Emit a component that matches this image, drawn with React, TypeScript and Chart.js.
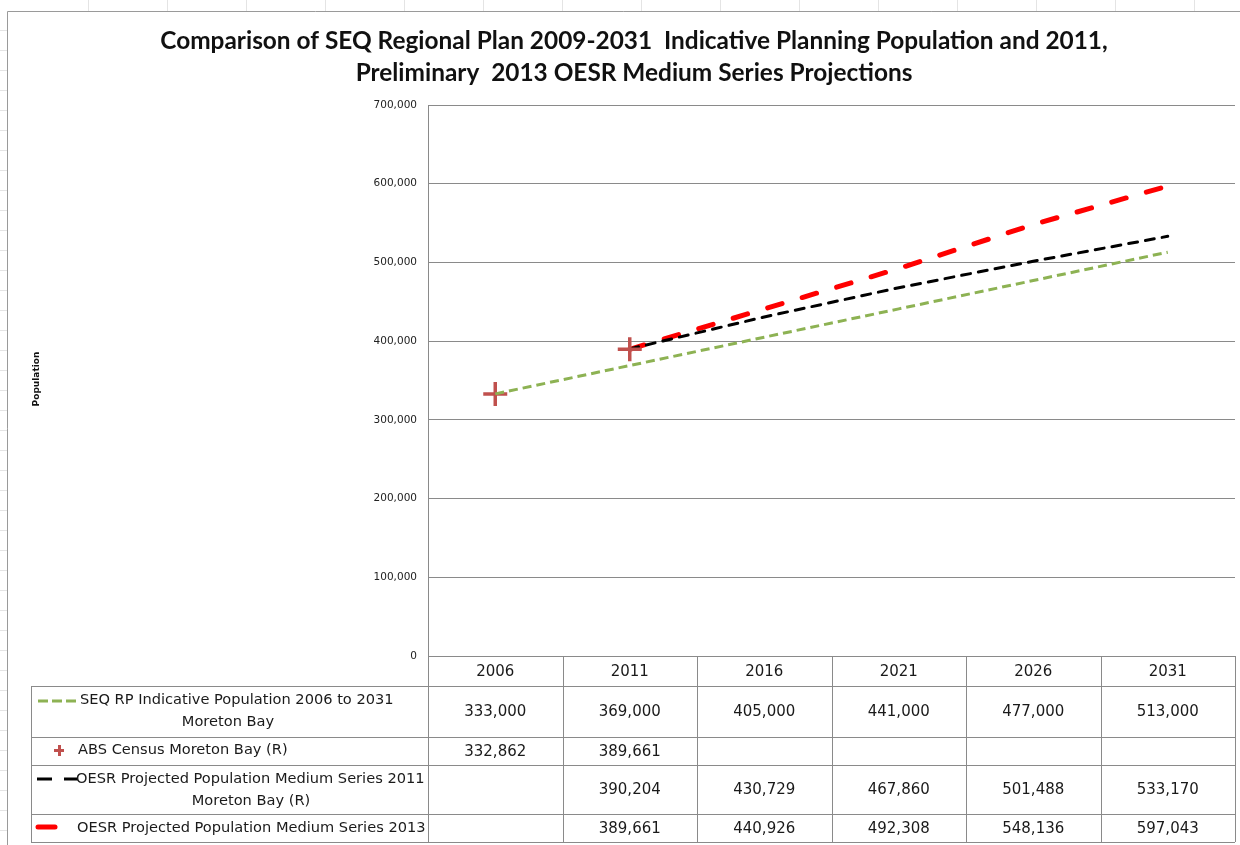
import React, { useEffect, useRef } from "react";
import { Chart, registerables } from "chart.js";

Chart.register(...registerables);

const years = ["2006", "2011", "2016", "2021", "2026", "2031"];
const seqRp = [333000, 369000, 405000, 441000, 477000, 513000];
const absCensus = [332862, 389661, null, null, null, null];
const oesr2011 = [null, 390204, 430729, 467860, 501488, 533170];
const oesr2013 = [null, 389661, 440926, 492308, 548136, 597043];
const seriesNames = [
  ["SEQ RP Indicative Population 2006 to 2031", "Moreton Bay"],
  ["ABS Census Moreton Bay (R)"],
  ["OESR Projected Population Medium Series 2011", "Moreton Bay (R)"],
  ["OESR Projected Population Medium Series 2013"],
];
const titleLines = [
  "Comparison of SEQ Regional Plan 2009-2031  Indicative Planning Population and 2011,",
  "Preliminary  2013 OESR Medium Series Projections",
];
const yAxisTitle = "Population";
const yMin = 0;
const yMax = 700000;
const yStep = 100000;

const GREEN = "#8DB253";
const BLACK = "#000000";
const RED = "#FF0000";
const CROSS = "#C0504D";
const GRID = "#8A8A8A";

const fmt = (v: number | null) => (v == null ? "" : v.toLocaleString("en-US"));

export default function App() {
  const ref = useRef<HTMLCanvasElement | null>(null);

  useEffect(() => {
    if (!ref.current) return;
    const numFont = "15px 'DejaVu Sans'";
    const nameFont = "14.6px 'DejaVu Sans'";
    const rowsY = [686, 737, 765, 814, 842];

    const tablePlugin = {
      id: "tablePlugin",
      afterDraw(chart: any) {
        const ctx = chart.ctx as CanvasRenderingContext2D;
        const xs = chart.scales.x;
        const area = chart.chartArea;
        const half = (xs.getPixelForValue(1) - xs.getPixelForValue(0)) / 2;
        ctx.save();

        // faint spreadsheet cells
        ctx.strokeStyle = "#E4E4E4";
        ctx.lineWidth = 1;
        for (let x = 88; x < 1240; x += 79) {
          ctx.beginPath();
          ctx.moveTo(x + 0.5, 0);
          ctx.lineTo(x + 0.5, 11);
          ctx.stroke();
        }
        for (let y = 30; y < 845; y += 20) {
          ctx.beginPath();
          ctx.moveTo(0, y + 0.5);
          ctx.lineTo(7, y + 0.5);
          ctx.stroke();
        }
        // outer frame
        ctx.strokeStyle = "#9A9A9A";
        ctx.beginPath();
        ctx.moveTo(7.5, 845);
        ctx.lineTo(7.5, 11.5);
        ctx.lineTo(1240, 11.5);
        ctx.stroke();

        // title
        ctx.fillStyle = "#111";
        ctx.font = "bold 24.4px Lato";
        ctx.textAlign = "center";
        ctx.textBaseline = "middle";
        ctx.fillText(titleLines[0], 634, 41);
        ctx.fillText(titleLines[1], 634, 73);

        // y axis title
        ctx.save();
        ctx.translate(37, 379);
        ctx.rotate(-Math.PI / 2);
        ctx.font = "bold 9px 'DejaVu Sans'";
        ctx.fillText(yAxisTitle, 0, 0);
        ctx.restore();

        // table grid
        ctx.strokeStyle = GRID;
        ctx.lineWidth = 1;
        const left = 31;
        const right = xs.getPixelForValue(years.length - 1) + half;
        rowsY.forEach((y) => {
          ctx.beginPath();
          ctx.moveTo(left, y + 0.5);
          ctx.lineTo(right, y + 0.5);
          ctx.stroke();
        });
        ctx.beginPath();
        ctx.moveTo(left + 0.5, rowsY[0]);
        ctx.lineTo(left + 0.5, rowsY[rowsY.length - 1]);
        ctx.stroke();
        for (let i = 0; i <= years.length; i++) {
          const x = Math.round(xs.getPixelForValue(i) - half) + 0.5;
          ctx.beginPath();
          ctx.moveTo(x, area.bottom);
          ctx.lineTo(x, rowsY[rowsY.length - 1]);
          ctx.stroke();
        }

        // cell values
        const series = [seqRp, absCensus, oesr2011, oesr2013];
        ctx.fillStyle = "#1a1a1a";
        ctx.font = numFont;
        ctx.textAlign = "center";
        ctx.textBaseline = "middle";
        series.forEach((s, r) => {
          const cy = (rowsY[r] + rowsY[r + 1]) / 2 + 1;
          s.forEach((v, i) => {
            ctx.fillText(fmt(v), xs.getPixelForValue(i), cy);
          });
        });

        // legend keys
        ctx.lineWidth = 3;
        ctx.strokeStyle = GREEN;
        ctx.setLineDash([10, 4]);
        ctx.beginPath();
        ctx.moveTo(38, 701);
        ctx.lineTo(80, 701);
        ctx.stroke();
        ctx.setLineDash([]);
        ctx.strokeStyle = CROSS;
        ctx.lineWidth = 3;
        ctx.beginPath();
        ctx.moveTo(54, 750.5);
        ctx.lineTo(64, 750.5);
        ctx.moveTo(59.5, 745);
        ctx.lineTo(59.5, 756);
        ctx.stroke();
        ctx.strokeStyle = BLACK;
        ctx.lineWidth = 3;
        ctx.beginPath();
        ctx.moveTo(37, 779);
        ctx.lineTo(52, 779);
        ctx.moveTo(64, 779);
        ctx.lineTo(78, 779);
        ctx.stroke();
        ctx.strokeStyle = RED;
        ctx.lineWidth = 5;
        ctx.lineCap = "round";
        ctx.beginPath();
        ctx.moveTo(38, 827);
        ctx.lineTo(55, 827);
        ctx.stroke();
        ctx.lineCap = "butt";

        // series names
        ctx.fillStyle = "#1a1a1a";
        ctx.font = nameFont;
        ctx.textBaseline = "middle";
        ctx.textAlign = "left";
        ctx.fillText(seriesNames[0][0], 80, 700);
        ctx.textAlign = "center";
        ctx.fillText(seriesNames[0][1], 228, 722);
        ctx.textAlign = "left";
        ctx.fillText(seriesNames[1][0], 78, 750);
        ctx.fillText(seriesNames[2][0], 76, 779);
        ctx.textAlign = "center";
        ctx.fillText(seriesNames[2][1], 251, 801);
        ctx.textAlign = "left";
        ctx.fillText(seriesNames[3][0], 77, 828);

        ctx.restore();
      },
    };

    const chart = new Chart(ref.current, {
      type: "line",
      data: {
        labels: years,
        datasets: [
          {
            label: seriesNames[0].join(" "),
            data: seqRp,
            borderColor: GREEN,
            borderWidth: 3,
            borderDash: [9, 5],
            pointRadius: 0,
            tension: 0,
          },
          {
            label: seriesNames[1].join(" "),
            data: absCensus,
            showLine: false,
            pointStyle: "cross",
            pointRadius: 12,
            borderColor: CROSS,
            backgroundColor: CROSS,
            pointBorderWidth: 3.5,
          },
          {
            label: seriesNames[2].join(" "),
            data: oesr2011,
            borderColor: BLACK,
            borderWidth: 3,
            borderDash: [9, 8],
            borderCapStyle: "round",
            pointRadius: 0,
            tension: 0,
          },
          {
            label: seriesNames[3].join(" "),
            data: oesr2013,
            borderColor: RED,
            borderWidth: 5,
            borderDash: [15, 21],
            borderCapStyle: "round",
            pointRadius: 0,
            tension: 0,
          },
        ],
      },
      options: {
        responsive: false,
        animation: false,
        events: [],
        layout: { autoPadding: false, padding: { top: 105, right: 5, left: 0, bottom: 0 } },
        plugins: {
          legend: { display: false },
          tooltip: { enabled: false },
          title: { display: false },
        },
        scales: {
          x: {
            type: "category",
            offset: true,
            grid: { display: false, drawTicks: false },
            border: { display: false },
            ticks: {
              font: { family: "DejaVu Sans", size: 15 },
              color: "#1a1a1a",
              padding: 7,
              maxRotation: 0,
            },
            afterFit: (s: any) => {
              s.height = 189;
              s.paddingLeft = 0;
              s.paddingRight = 0;
            },
          },
          y: {
            min: yMin,
            max: yMax,
            ticks: {
              stepSize: yStep,
              font: { family: "DejaVu Sans", size: 10.5 },
              color: "#222",
              padding: 11,
              callback: (v: any) => Number(v).toLocaleString("en-US"),
            },
            grid: { color: GRID, drawTicks: false, lineWidth: 1 },
            border: { display: true, color: GRID },
            afterFit: (s: any) => {
              s.width = 428;
            },
          },
        },
      },
      plugins: [tablePlugin],
    });
    return () => chart.destroy();
  }, []);

  return (
    <div style={{ position: "absolute", left: 0, top: 0, width: 1240, height: 845, background: "#fff" }}>
      <canvas ref={ref} width={1240} height={845} style={{ width: 1240, height: 845 }} />
    </div>
  );
}
